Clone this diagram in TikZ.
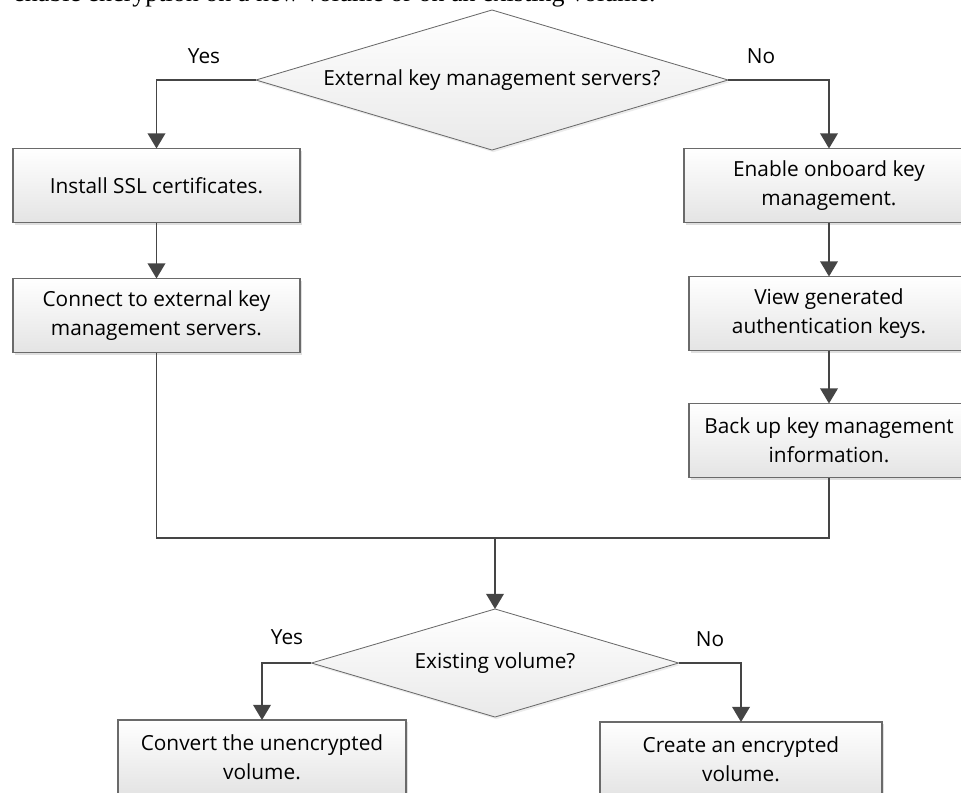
\documentclass[tikz,border=0pt]{standalone}
\usepackage{fontspec}
\setmainfont{Open Sans}
\newfontfamily\introfont{Liberation Serif}
\usetikzlibrary{arrows.meta, positioning, shapes.geometric, shadows}

\definecolor{boxgray}{HTML}{6A6A6A}
\definecolor{linegray}{HTML}{454545}
\definecolor{boxfill}{HTML}{E4E4E4}

\tikzset{
  stepbox/.style={rectangle, draw=boxgray, line width=0.9pt, top color=white, bottom color=boxfill,
    drop shadow={shadow xshift=1.5pt, shadow yshift=-1.5pt, opacity=0.25},
    align=center, minimum height=1.85cm, inner sep=2pt, outer sep=0pt},
  decision/.style={diamond, draw=boxgray, line width=0.6pt, top color=white, bottom color=boxfill!80,
    drop shadow={shadow xshift=1pt, shadow yshift=-1.5pt, opacity=0.15},
    inner sep=0pt, outer sep=0pt},
  answer/.style={inner sep=0pt},
  flow/.style={draw=linegray, line width=1.4pt},
  flowarrow/.style={flow, -{Triangle[length=0.38cm, width=0.44cm]}}
}

\begin{document}
\begin{tikzpicture}[x=0.025cm, y=-0.025cm, font=\fontsize{14.8}{20.6}\selectfont]
\clip (0,0) rectangle (961,792);

% cut-off line of the page above
\node[anchor=base west, inner sep=0pt, font=\introfont\fontsize{18.5}{22}\selectfont] (intro) at (13,1)
  {enable encryption on a new volume or on an existing volume.};

% key management
\node[decision, aspect=3.37, minimum width=11.8cm, minimum height=3.5cm] (extkm) at (492,80) {External key management servers?};
\node[answer] (yes1) at (204,56) {Yes};
\node[answer] (no1) at (761,56) {No};

\node[stepbox, minimum width=7.175cm] (ssl) at (156.5,185.5) {Install SSL certificates.};
\node[stepbox, minimum width=7.175cm] (connect) at (156.5,315.5) {Connect to external key\\management servers.};

\node[stepbox, minimum width=7.25cm] (onboard) at (829,185.5) {Enable onboard key\\management.};
\node[stepbox, minimum width=7cm] (viewkeys) at (829,313.5) {View generated\\authentication keys.};
\node[stepbox, minimum width=7cm] (backup) at (829,440.5) {Back up key management\\information.};

\coordinate (merge) at (495,538);

% volume
\node[decision, aspect=3.4, minimum width=9.175cm, minimum height=2.7cm] (existing) at (495,663) {Existing volume?};
\node[answer] (yes2) at (287,637) {Yes};
\node[answer] (no2) at (710,639) {No};

\node[stepbox, minimum width=7.2cm, anchor=north] (convert) at (262,720) {Convert the unencrypted\\volume.};
\node[stepbox, minimum width=7.05cm, anchor=north] (create) at (741,722) {Create an encrypted\\volume.};

% connectors
\draw[flowarrow] (extkm.west) -| (ssl.north);
\draw[flowarrow] (extkm.east) -| (onboard.north);
\draw[flowarrow] (ssl) -- (connect);
\draw[flowarrow] (onboard) -- (viewkeys);
\draw[flowarrow] (viewkeys) -- (backup);
\draw[flow] (connect.south) |- (merge) -| (backup.south);
\draw[flowarrow] (merge) -- (existing.north);
\draw[flowarrow] (existing.west) -| (convert.north);
\draw[flowarrow] (existing.east) -| (create.north);
\end{tikzpicture}
\end{document}
